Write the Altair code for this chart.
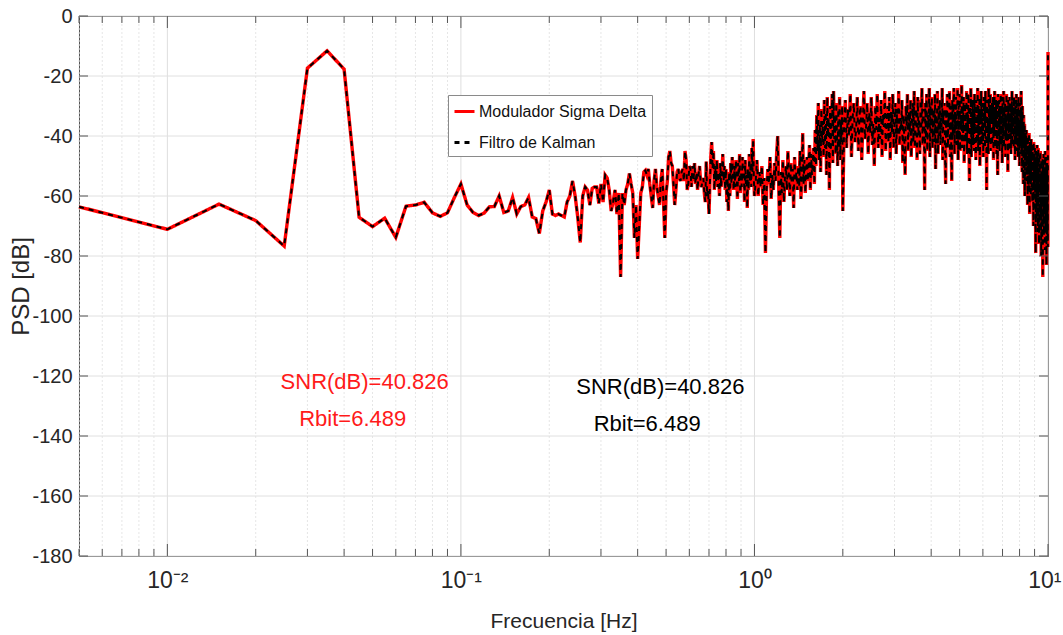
import altair as alt
import pandas as pd

series_names = ["Modulador Sigma Delta", "Filtro de Kalman"]
series_colors = ["#ff0000", "#000000"]

# PSD [dB], segment by segment (uniform frequency grid)
psd_a = [-63.6, -71.1, -62.7, -68.2, -76.7, -17.4, -11.6, -17.7, -67.1, -70.2,
         -67.4, -73.8, -63.4, -63.0, -62.1, -65.6, -66.8, -65.6, -60.5, -56.0]  # 0.005..0.1
psd_b = [-63, -65.5, -66.5, -65.7, -63.6, -63.5, -60, -65.5, -65, -60.5,
         -66, -63.5, -63, -60.5, -67, -67.5, -72.5, -65, -62, -58,
         -66, -66.5, -66, -66.5, -67, -62, -60, -55, -60, -67,
         -75.5, -60, -57, -58, -63, -57.5, -57, -57, -62.5, -56]  # 0.105..0.3
psd_c = [-62, -53, -54, -58, -65, -62, -58, -66, -59, -87,
         -59, -63, -58, -56, -52.5, -56, -59, -74, -63, -81,
         -70, -59, -57, -52, -51.5, -53, -51, -56, -60, -64,
         -55, -51, -57, -60, -63, -55, -51, -62, -74, -59,
         -55, -47, -45, -49, -50, -56, -63, -58, -52, -51,
         -54, -55, -52, -51, -55, -45, -48, -58, -56, -50,
         -51, -57, -50, -55, -49, -56, -52, -58, -53, -50,
         -55, -57, -55, -54, -59, -62, -48.5, -60, -58, -66,
         -56, -47, -42, -51, -45, -58, -50, -55, -48, -57,
         -52, -60, -49, -57, -53, -46, -55, -50, -58, -51,
         -62, -54, -65, -52, -60, -49, -56, -47, -53, -58,
         -50, -57, -48, -54, -61, -49, -55, -46, -59, -52,
         -57, -47, -55, -50, -62, -48, -56, -53, -64, -51,
         -58, -46, -55, -49, -57, -44, -52, -41, -54, -60]  # 0.305..1.0
psd_d1 = [-55, -48, -60, -52, -57, -50, -63, -54, -79, -58,
          -51, -56, -47, -61, -53, -58, -49, -55, -46, -40,
          -57, -74, -52, -59, -48, -62, -54, -50, -58, -45,
          -53, -60, -49, -56, -51, -64, -47, -55, -52, -58,
          -50, -57, -45, -61, -53, -39, -56, -48, -59, -52,
          -47, -55, -50, -43, -58, -46, -53, -49, -44, -56,
          -38, -50, -33, -45, -29, -48, -36, -52, -31, -42,
          -35, -47, -28, -44, -32, -53, -27, -40, -34, -58,
          -30, -45, -37, -26, -49, -25, -41, -33, -46, -29,
          -39, -50, -31, -44, -27, -48, -35, -42, -30, -65]  # 1.01..2.0
psd_d2 = [-36, -28, -44, -31, -40, -26, -47, -34, -29, -42, -38, -27, -45, -33, -30, -48, -35, -25, -41, -37,
          -29, -46, -32, -39, -27, -43, -36, -50, -30, -38, -26, -44, -34, -41, -28, -47, -33, -37, -25, -45,
          -35, -30, -42, -27, -48, -32, -39, -26, -44, -36, -29, -46, -31, -40, -25, -43, -34, -38, -28, -49,
          -33, -41, -53, -30, -37, -26, -45, -32, -39, -28, -47, -35, -29, -42, -25, -44, -36, -31, -48, -27,
          -40, -34, -46, -28, -38, -24, -43, -31, -36, -58, -29, -41, -26, -45, -33, -37, -24, -47, -30, -39,
          -27, -44, -35, -31, -42, -26, -51, -33, -38, -25, -46, -30, -40, -28, -43, -34, -37, -24, -48, -32,
          -36, -29, -45, -56, -31, -39, -26, -44, -33, -37, -25, -47, -30, -42, -55, -28, -40, -34, -24, -46,
          -32, -38, -27, -43, -35, -24, -48, -30, -41, -26, -45, -33, -37, -23, -44, -31, -39, -27, -49, -34,
          -29, -42, -36, -25, -46, -32, -38, -26, -44, -55, -30, -40, -24, -47, -34, -37, -28, -43, -31, -45,
          -26, -39, -33, -48, -28, -41, -35, -24, -45, -30, -38, -27, -50, -32, -36, -25, -43, -29, -40, -34,
          -47, -27, -37, -31, -44, -25, -41, -33, -58, -28, -39, -35, -46, -24, -42, -30, -38, -26, -45, -32,
          -36, -29, -43, -34, -27, -48, -31, -40, -25, -44, -33, -37, -28, -46, -30, -42, -53, -26, -39, -35,
          -28, -45, -32, -38, -26, -43, -35, -30, -49, -27, -41, -34, -25, -44, -31, -37, -29, -47, -33, -40,
          -26, -42, -36, -30, -52, -28, -39, -33, -45, -27, -41, -35, -29, -46, -31, -38, -25, -43, -34, -37,
          -30, -44, -27, -40, -33, -48, -28, -36, -42, -26, -45, -31, -38, -29, -47, -34, -27, -41, -35, -50,
          -29, -43, -32, -39, -25, -46, -34, -52, -30, -44, -38, -56, -33, -41, -47, -36, -60, -39, -45, -42,
          -50, -38, -55, -41, -47, -63, -40, -52, -44, -58, -39, -49, -66, -42, -54, -45, -60, -41, -51, -57,
          -44, -62, -43, -53, -48, -70, -42, -56, -46, -65, -44, -59, -50, -79, -45, -57, -49, -68, -43, -61,
          -47, -72, -44, -58, -51, -76, -46, -63, -49, -70, -45, -66, -53, -80, -48, -62, -55, -74, -47, -87,
          -50, -69, -46, -73, -52, -64, -48, -78, -45, -66, -56, -71, -47, -83, -51, -68, -49, -75, -54]  # 2.02..9.98
tail_f = [9.99, 10.0]
tail_psd = [-77, -12]

segments = [(0.005, 0.005, psd_a), (0.105, 0.005, psd_b), (0.305, 0.005, psd_c),
            (1.01, 0.01, psd_d1), (2.02, 0.02, psd_d2)]
freqs, vals = [], []
for start, step, v in segments:
    freqs += [round(start + step * i, 4) for i in range(len(v))]
    vals += v
freqs += tail_f
vals += tail_psd

df = pd.concat([pd.DataFrame({"f": freqs, "psd": vals, "series": s}) for s in series_names],
               ignore_index=True)

x_major = [0.01, 0.1, 1, 10]
x_major_labels = ["10⁻²", "10⁻¹", "10⁰", "10¹"]
x_minor = [0.005, 0.006, 0.007, 0.008, 0.009,
           0.02, 0.03, 0.04, 0.05, 0.06, 0.07, 0.08, 0.09,
           0.2, 0.3, 0.4, 0.5, 0.6, 0.7, 0.8, 0.9,
           2, 3, 4, 5, 6, 7, 8, 9]
y_ticks = list(range(-180, 1, 20))

ann_text = ["SNR(dB)=40.826", "Rbit=6.489", "SNR(dB)=40.826", "Rbit=6.489"]
ann_f = [0.0470, 0.0428, 0.478, 0.431]
ann_db = [-122.0, -134.3, -123.7, -136.0]
ann_color = ["red", "red", "black", "black"]
ann = pd.DataFrame({"f": ann_f, "psd": ann_db, "t": ann_text, "c": ann_color})

W, H = 969, 540
FONT = "Liberation Sans"

xscale = alt.Scale(type="log", domain=[0.005, 10], nice=False)
yscale = alt.Scale(domain=[-180, 0], nice=False)

label_expr = " : ".join(
    [f"datum.value == {v} ? '{l}'" for v, l in zip(x_major[:-1], x_major_labels[:-1])]
) + f" : '{x_major_labels[-1]}'"

xaxis = alt.Axis(values=x_major, labelExpr=label_expr, grid=False, ticks=False, domain=False,
                 labelFontSize=23, labelPadding=13, labelFlush=True, labelFlushOffset=13,
                 title="Frecuencia [Hz]", titleFontSize=21, titleFontWeight="normal",
                 titleY=71, titleBaseline="alphabetic")
yaxis = alt.Axis(values=y_ticks, grid=False, ticks=False, domain=False,
                 labelExpr="datum.value < 0 ? '-' + abs(datum.value) : '' + datum.value",
                 labelFontSize=20, labelPadding=7,
                 title="PSD [dB]", titleFontSize=24, titleFontWeight="normal",
                 titleX=-46, titleY=H / 2, titleAlign="center", titleBaseline="bottom")

X = alt.X("f:Q", scale=xscale, axis=xaxis)
Y = alt.Y("psd:Q", scale=yscale, axis=yaxis)

leg = alt.Legend(title=None, orient="none", legendX=369, legendY=79,
                 fillColor="white", strokeColor="#8a8a8a", padding=5, rowPadding=11,
                 labelFontSize=16, labelFont=FONT, labelColor="#111111", labelOffset=3,
                 labelLimit=400,
                 symbolType="stroke", symbolSize=400, symbolStrokeWidth=3)
C = alt.Color("series:N", scale=alt.Scale(domain=series_names, range=series_colors), legend=leg)
D = alt.StrokeDash("series:N", scale=alt.Scale(domain=series_names, range=[[1, 0], [5, 5]]), legend=leg)

minor_df = pd.DataFrame({"f": x_minor})
major_df = pd.DataFrame({"f": x_major})
ytick_df = pd.DataFrame({"psd": y_ticks})

grid_minor = alt.Chart(minor_df).mark_rule(color="#e6e6e6", strokeDash=[2, 2], strokeWidth=1).encode(x=X)
grid_major = alt.Chart(major_df).mark_rule(color="#dedede", strokeWidth=1).encode(x=X)
grid_y = alt.Chart(ytick_df).mark_rule(color="#e0e0e0", strokeWidth=1).encode(y=Y)

line_red = alt.Chart(df).transform_filter(alt.datum.series == series_names[0]).mark_line(
    strokeWidth=3.4).encode(x=X, y=Y, color=C, strokeDash=D)
line_black = alt.Chart(df).transform_filter(alt.datum.series == series_names[1]).mark_line(
    strokeWidth=2).encode(x=X, y=Y, color=C, strokeDash=D)

tick_color = "#555555"
tk_major_b = alt.Chart(major_df).mark_rule(color=tick_color).encode(x=X, y=alt.value(H), y2=alt.value(H - 12))
tk_minor_b = alt.Chart(minor_df).mark_rule(color=tick_color).encode(x=X, y=alt.value(H), y2=alt.value(H - 7))
tk_major_t = alt.Chart(major_df).mark_rule(color=tick_color).encode(x=X, y=alt.value(0), y2=alt.value(12))
tk_minor_t = alt.Chart(minor_df).mark_rule(color=tick_color).encode(x=X, y=alt.value(0), y2=alt.value(7))
tk_y_l = alt.Chart(ytick_df).mark_rule(color=tick_color).encode(y=Y, x=alt.value(0), x2=alt.value(9))
tk_y_r = alt.Chart(ytick_df).mark_rule(color=tick_color).encode(y=Y, x=alt.value(W - 9), x2=alt.value(W))

txt_red = alt.Chart(ann).transform_filter(alt.datum.c == "red").mark_text(
    color="#ff1a1a", font=FONT, fontSize=22, align="center", baseline="middle").encode(x=X, y=Y, text="t:N")
txt_black = alt.Chart(ann).transform_filter(alt.datum.c == "black").mark_text(
    color="#000000", font=FONT, fontSize=22, align="center", baseline="middle").encode(x=X, y=Y, text="t:N")

chart = alt.layer(
    grid_minor, grid_major, grid_y, line_red, line_black,
    tk_major_b, tk_minor_b, tk_major_t, tk_minor_t, tk_y_l, tk_y_r,
    txt_red, txt_black
).properties(
    width=W, height=H,
    autosize=alt.AutoSizeParams(type="none"),
    padding={"left": 79, "top": 16, "right": 15, "bottom": 79},
    background="white"
).configure_view(
    stroke="#555555", strokeWidth=1
).configure_axis(
    labelFont=FONT, titleFont=FONT, labelColor="#262626", titleColor="#262626"
)

chart.save("out.html", embed_options={"renderer": "svg", "actions": False})
